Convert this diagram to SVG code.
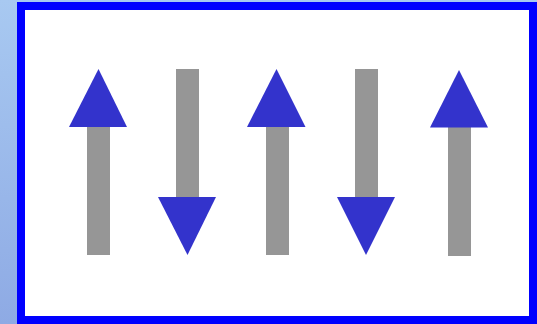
<svg xmlns="http://www.w3.org/2000/svg" width="537" height="324" viewBox="0 0 537 324">
<defs>
<linearGradient id="bg" x1="0" y1="0" x2="0" y2="1">
<stop offset="0" stop-color="#a8c9f1"/>
<stop offset="1" stop-color="#8eaae4"/>
</linearGradient>
<style>
.bar{fill:#969696}
.head{fill:#3333cc}
</style>
</defs>
<rect x="0" y="0" width="537" height="324" fill="url(#bg)"/>
<rect id="frame" x="21" y="6" width="512" height="314" fill="#ffffff" stroke="#0000ff" stroke-width="8"/>
<g id="connectors">
<g id="arrow1">
<rect class="bar" x="87" y="126" width="23" height="129"/>
<polygon class="head" points="69,127 98.5,69 127,127"/>
</g>
<g id="arrow2">
<rect class="bar" x="176" y="69" width="23" height="129"/>
<polygon class="head" points="158,197 216,197 187.5,255"/>
</g>
<g id="arrow3">
<rect class="bar" x="266" y="126" width="23" height="129"/>
<polygon class="head" points="247,127 276.5,69 305.5,127"/>
</g>
<g id="arrow4">
<rect class="bar" x="355" y="69" width="23" height="129"/>
<polygon class="head" points="337,197 395,197 366,255"/>
</g>
<g id="arrow5">
<rect class="bar" x="448" y="126" width="23" height="130"/>
<polygon class="head" points="430,127.5 459,70 488,127.5"/>
</g>
</g>
</svg>
